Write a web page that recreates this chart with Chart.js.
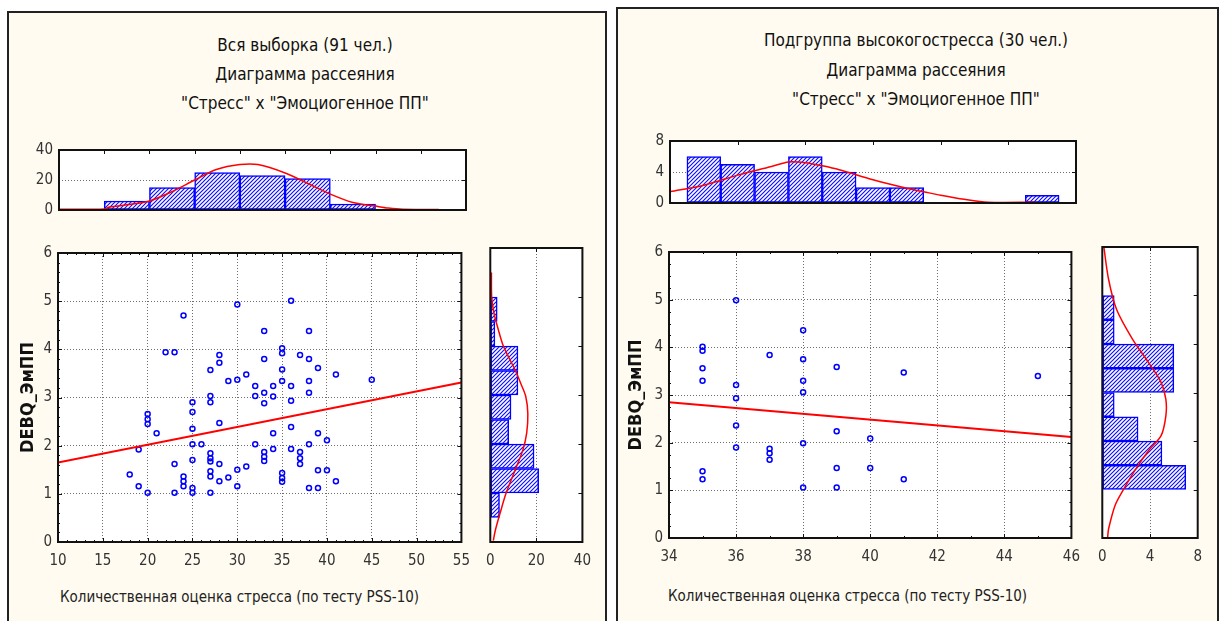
<!DOCTYPE html>
<html>
<head>
<meta charset="utf-8">
<script src="https://cdn.jsdelivr.net/npm/chart.js@4.4.0/dist/chart.umd.min.js"></script>
<style>
  body { margin: 0; background: #fff; width: 1223px; height: 621px; overflow: hidden; position: relative;
         font-family: "Liberation Sans Narrow", "DejaVu Sans Condensed", "Liberation Sans", sans-serif; }
  .panel { position: absolute; background: #fffbf0; border: 2px solid #222; box-sizing: border-box; }
  canvas { position: absolute; }
  .t { position: absolute; width: 420px; text-align: center; font-size: 17px; color: #111; white-space: nowrap; }
  .xt { position: absolute; font-size: 15px; color: #222; white-space: nowrap; }
</style>
</head>
<body>
<div class="panel" style="left:7px;top:11px;width:600px;height:640px"></div>
<div class="panel" style="left:616px;top:7px;width:603px;height:640px"></div>

<div class="t" style="left:95px;top:35px">Вся выборка (91 чел.)</div>
<div class="t" style="left:95px;top:64px">Диаграмма рассеяния</div>
<div class="t" style="left:95px;top:93px">"Стресс" х "Эмоциогенное ПП"</div>
<div class="t" style="left:706px;top:30px">Подгруппа высокогостресса (30 чел.)</div>
<div class="t" style="left:706px;top:60px">Диаграмма рассеяния</div>
<div class="t" style="left:706px;top:89px">"Стресс" х "Эмоциогенное ПП"</div>

<canvas id="topAll" width="462" height="90" style="left:18px;top:135px"></canvas>
<canvas id="scatterAll" width="462" height="340" style="left:18px;top:238px"></canvas>
<canvas id="sideAll" width="125" height="340" style="left:476px;top:238px"></canvas>
<canvas id="topHigh" width="464" height="92" style="left:626px;top:126px"></canvas>
<canvas id="scatterHigh" width="464" height="340" style="left:626px;top:237px"></canvas>
<canvas id="sideHigh" width="124" height="340" style="left:1088px;top:237px"></canvas>

<div class="xt" style="left:60px;top:588px">Количественная оценка стресса (по тесту PSS-10)</div>
<div class="xt" style="left:668px;top:587px">Количественная оценка стресса (по тесту PSS-10)</div>

<script>
// Вся выборка: стресс (PSS-10) и DEBQ_ЭмПП
const stressAll = [18, 19, 19, 20, 20, 20, 20, 21, 22, 23, 23, 23, 24, 24, 24, 24,
  25, 25, 25, 25, 25, 25, 25, 26, 27, 27, 27, 27, 27, 27, 27, 27, 27,
  28, 28, 28, 28, 28, 29, 29, 30, 30, 30, 30, 31, 31, 32, 32, 32,
  33, 33, 33, 33, 33, 33, 33, 34, 34, 34, 34, 35, 35, 35, 35, 35, 35, 35,
  36, 36, 36, 36, 36, 37, 37, 37, 37, 38, 38, 38, 38, 38, 38,
  39, 39, 39, 39, 40, 40, 41, 41, 45];
const debqAll = [1.40, 1.92, 1.16, 1.02, 2.66, 2.55, 2.45, 2.26, 3.94, 3.94, 1.62, 1.02, 4.70, 1.36, 1.26, 1.16,
  2.90, 2.70, 2.35, 2.03, 1.70, 1.12, 1.02, 2.03, 3.57, 3.03, 2.90, 1.84, 1.74, 1.67, 1.47, 1.36, 1.02,
  3.88, 3.72, 2.47, 1.62, 1.26, 3.34, 1.34, 4.93, 3.37, 1.50, 1.16, 3.48, 1.57, 3.24, 3.03, 2.03,
  4.38, 3.80, 3.10, 2.88, 1.87, 1.77, 1.68, 3.24, 3.02, 2.26, 1.93, 4.02, 3.92, 3.58, 3.34, 1.43, 1.33, 1.25,
  5.01, 3.24, 2.93, 2.39, 1.93, 3.88, 1.87, 1.74, 1.62, 4.38, 3.80, 3.34, 3.10, 2.03, 1.12,
  3.61, 2.26, 1.49, 1.12, 2.11, 1.49, 3.48, 1.26, 3.37];
const regAllX = [10, 55];
const regAllY = [1.65, 3.31];

// гистограмма стресса (сверху)
const binsStressAll = [17.5, 22.5, 27.5, 32.5, 37.5, 42.5];
const countsStressAll = [6, 15, 25, 23, 21, 4];
const normStressAllX = [10, 15, 15.6, 17.5, 20, 22.6, 25, 27.4, 30, 32, 35, 37.7, 40, 42.5, 45, 46.4, 48, 52];
const normStressAllY = [0.5, 0.7, 2, 3.5, 6, 12.5, 20, 27, 30.3, 30.3, 24.7, 17.2, 10.6, 5, 2.6, 1.3, 0.5, 0.4];

// гистограмма DEBQ (справа)
const binsDebqAll = [0.75, 1.25, 1.75, 2.25, 2.75, 3.25, 3.75, 4.25, 4.75];
const countsDebqAll = [4, 21, 19, 8, 9, 12, 12, 2, 3];
const normDebqAllY = [0.03, 0.24, 0.58, 0.99, 1.47, 1.87, 2.22, 2.62, 2.97, 3.24, 3.51, 3.75, 4.02, 4.33, 4.67, 5.0, 5.5];
const normDebqAllX = [1.3, 2.2, 4.2, 6.8, 10.8, 14.1, 15.8, 16.3, 15.4, 13.2, 10.8, 8.2, 5.5, 3.5, 1.6, 0.6, 0.5];

// Подгруппа высокого стресса
const stressHigh = [35, 35, 35, 35, 35, 35, 36, 36, 36, 36, 36, 37, 37, 37, 37,
  38, 38, 38, 38, 38, 38, 39, 39, 39, 39, 40, 40, 41, 41, 45];
const debqHigh = [4.01, 3.93, 3.56, 3.30, 1.40, 1.23, 4.99, 3.21, 2.93, 2.36, 1.90, 3.84, 1.87, 1.78, 1.64,
  4.36, 3.75, 3.30, 3.06, 1.99, 1.06, 3.59, 2.24, 1.47, 1.06, 2.09, 1.47, 3.47, 1.23, 3.40];
const regHighX = [34, 46];
const regHighY = [2.85, 2.12];

const binsStressHigh = [35, 36, 37, 38, 39, 40, 41, 45];
const countsStressHigh = [6, 5, 4, 6, 4, 2, 2, 1];
const normStressHighX = [34, 35, 36, 37, 37.5, 38, 38.5, 39, 40, 41, 41.5, 42, 42.7, 43.4, 44.8];
const normStressHighY = [1.45, 2.3, 3.6, 4.7, 5.3, 5.2, 4.8, 4.3, 3.0, 1.9, 1.45, 1.0, 0.47, 0.1, 0.1];

const binsDebqHigh = [1.25, 1.75, 2.25, 2.75, 3.25, 3.75, 4.25, 4.75];
const countsDebqHigh = [7, 5, 3, 1, 6, 6, 1, 1];
const normDebqHighY = [0.02, 0.19, 0.67, 0.98, 1.42, 1.80, 2.11, 2.52, 2.86, 3.21, 3.62, 4.10, 4.71, 5.33, 6.0];
const normDebqHighX = [0.45, 0.53, 1.07, 1.73, 2.8, 3.87, 4.93, 5.33, 5.33, 4.93, 3.87, 2.53, 1.2, 0.53, 0.13];

const BLUE = "#0000ff";
const RED = "#ff0000";

Chart.defaults.font.family = '"Liberation Sans Narrow", "DejaVu Sans Condensed", "Liberation Sans", sans-serif';
Chart.defaults.font.size = 15;
Chart.defaults.color = "#333";

// белый фон, рамка графика и внутренние засечки
const framePlugin = {
  id: "frame",
  beforeDraw(chart) {
    const { ctx, chartArea: a } = chart;
    ctx.save();
    ctx.fillStyle = "#fff";
    ctx.fillRect(a.left, a.top, a.right - a.left, a.bottom - a.top);
    ctx.restore();
  },
  afterDraw(chart, args, opts) {
    const { ctx, chartArea: a } = chart;
    ctx.save();
    ctx.strokeStyle = "#111";
    ctx.lineWidth = 1;
    ["x", "y"].forEach((id) => {
      const spec = opts[id];
      if (!spec) return;
      const scale = chart.scales[id];
      [[spec.step, 4], [spec.minor, 2]].forEach(([step, len]) => {
        if (!step) return;
        const n = Math.round((scale.max - scale.min) / step);
        ctx.beginPath();
        for (let i = 1; i < n; i++) {
          const p = Math.round(scale.getPixelForValue(scale.min + i * step)) + 0.5;
          spec.sides.forEach((side) => {
            if (side === "top") { ctx.moveTo(p, a.top); ctx.lineTo(p, a.top + len); }
            if (side === "bottom") { ctx.moveTo(p, a.bottom); ctx.lineTo(p, a.bottom - len); }
            if (side === "left") { ctx.moveTo(a.left, p); ctx.lineTo(a.left + len, p); }
            if (side === "right") { ctx.moveTo(a.right, p); ctx.lineTo(a.right - len, p); }
          });
        }
        ctx.stroke();
      });
    });
    ctx.lineWidth = 2;
    ctx.strokeRect(a.left, a.top, a.right - a.left, a.bottom - a.top);
    ctx.restore();
  },
};
Chart.register(framePlugin);

// штриховка столбцов
function hatchFill() {
  const c = document.createElement("canvas");
  c.width = 4;
  c.height = 4;
  const g = c.getContext("2d");
  g.fillStyle = "#fff";
  g.fillRect(0, 0, 4, 4);
  g.strokeStyle = "#1010ff";
  g.lineWidth = 1.2;
  g.beginPath();
  g.moveTo(-1, 5); g.lineTo(5, -1);
  g.moveTo(-1, 1); g.lineTo(1, -1);
  g.moveTo(3, 5); g.lineTo(5, 3);
  g.stroke();
  return g.createPattern(c, "repeat");
}

function fit(size) {
  return (s) => {
    if (s.isHorizontal()) s.height = size;
    else s.width = size;
  };
}

function gridDots() {
  return { color: "#6e6e6e", lineWidth: 1, drawTicks: false };
}
function borderDots() {
  return { display: false, dash: [1, 2] };
}

function baseOptions(padding, frame) {
  return {
    responsive: false,
    animation: false,
    events: [],
    layout: { padding: padding },
    plugins: { legend: { display: false }, tooltip: { enabled: false }, frame: frame },
  };
}

function toPoints(xs, ys) {
  return xs.map((x, i) => ({ x: x, y: ys[i] }));
}

function makeScatter(id, xs, ys, regX, regY, xMin, xMax, xStep, frame, yFit, xFit) {
  const options = baseOptions({ top: 10, right: 14 }, frame);
  options.scales = {
    x: { type: "linear", min: xMin, max: xMax, ticks: { stepSize: xStep, padding: 10 },
         grid: gridDots(), border: borderDots(), afterFit: fit(xFit) },
    y: { type: "linear", min: 0, max: 6, ticks: { stepSize: 1, padding: 6 },
         grid: gridDots(), border: borderDots(), afterFit: fit(yFit),
         title: { display: true, text: "DEBQ_ЭмПП", color: "#111",
                  font: { size: 18, weight: "bold" }, padding: { top: 0, bottom: 0 } } },
  };
  return new Chart(document.getElementById(id), {
    type: "scatter",
    data: {
      datasets: [
        { type: "line", data: toPoints(regX, regY), borderColor: RED, borderWidth: 2,
          pointRadius: 0, order: 0 },
        { data: toPoints(xs, ys), pointStyle: "circle", pointRadius: 2.5, borderWidth: 1.5,
          borderColor: BLUE, backgroundColor: "rgba(0,0,0,0)", order: 1 },
      ],
    },
    options: options,
  });
}

function makeTopHist(id, bins, counts, curveX, curveY, xMin, xMax, xStep, yMax, yStep, yFit, xFit) {
  const options = baseOptions({ top: 10, right: 14 }, {
    x: { step: xStep, sides: ["top"] },
    y: { step: yStep, sides: ["right"] },
  });
  options.scales = {
    x: { type: "linear", min: xMin, max: xMax, offset: false,
         ticks: { display: false, stepSize: xStep }, grid: { display: false, offset: false },
         border: { display: false }, afterFit: fit(xFit) },
    y: { type: "linear", min: 0, max: yMax, ticks: { stepSize: yStep, padding: 6 },
         grid: gridDots(), border: borderDots(), afterFit: fit(yFit) },
  };
  return new Chart(document.getElementById(id), {
    type: "bar",
    data: {
      datasets: [
        { type: "line", data: toPoints(curveX, curveY), borderColor: RED, borderWidth: 1.5,
          pointRadius: 0, tension: 0.3, order: 0 },
        { data: toPoints(bins, counts), backgroundColor: hatchFill(), borderColor: BLUE,
          borderWidth: 1.5, borderSkipped: false, barPercentage: 1, categoryPercentage: 1, order: 1 },
      ],
    },
    options: options,
  });
}

function makeSideHist(id, bins, counts, curveX, curveY, xMax, xStep, xFit) {
  const options = baseOptions({ top: 10, right: 14 }, {
    x: { step: xStep, sides: ["top", "bottom"] },
    y: { step: 1, sides: ["right"] },
  });
  options.indexAxis = "y";
  options.scales = {
    x: { type: "linear", min: 0, max: xMax, ticks: { stepSize: xStep, padding: 10 },
         grid: gridDots(), border: borderDots(), afterFit: fit(xFit) },
    y: { type: "linear", min: 0, max: 6, offset: false,
         ticks: { display: false, stepSize: 1 }, grid: { display: false, offset: false },
         border: { display: false }, afterFit: fit(10) },
  };
  return new Chart(document.getElementById(id), {
    type: "bar",
    data: {
      datasets: [
        { type: "line", indexAxis: "y", data: toPoints(curveX, curveY), borderColor: RED,
          borderWidth: 1.5, pointRadius: 0, tension: 0.3, order: 0 },
        { indexAxis: "y", data: toPoints(counts, bins), backgroundColor: hatchFill(), borderColor: BLUE,
          borderWidth: 1.5, borderSkipped: false, barPercentage: 1, categoryPercentage: 1, order: 1 },
      ],
    },
    options: options,
  });
}

// левая панель
makeTopHist("topAll", binsStressAll, countsStressAll, normStressAllX, normStressAllY,
  10, 55, 5, 40, 20, 41, 8);
makeScatter("scatterAll", stressAll, debqAll, regAllX, regAllY, 10, 55, 5, {
  x: { step: 5, minor: 1, sides: ["top", "bottom"] },
  y: { step: 1, minor: 0.2, sides: ["left", "right"] },
}, 40, 36);
makeSideHist("sideAll", binsDebqAll, countsDebqAll, normDebqAllX, normDebqAllY, 40, 20, 36);

// правая панель
makeTopHist("topHigh", binsStressHigh, countsStressHigh, normStressHighX, normStressHighY,
  34, 46, 2, 8, 4, 44, 9);
makeScatter("scatterHigh", stressHigh, debqHigh, regHighX, regHighY, 34, 46, 2, {
  x: { step: 2, minor: 1, sides: ["top", "bottom"] },
  y: { step: 1, minor: 0.25, sides: ["left", "right"] },
}, 43, 39);
makeSideHist("sideHigh", binsDebqHigh, countsDebqHigh, normDebqHighX, normDebqHighY, 8, 4, 39);
</script>
</body>
</html>
